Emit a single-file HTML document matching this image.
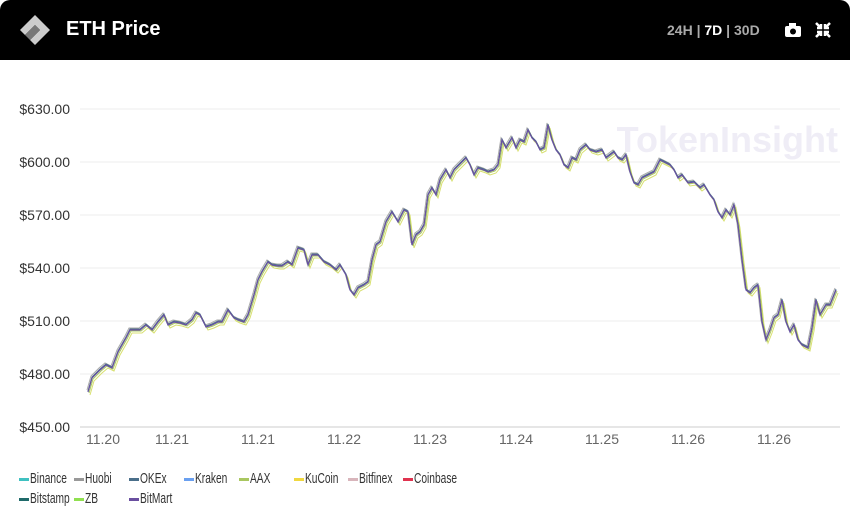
<!DOCTYPE html>
<html><head><meta charset="utf-8"><style>
body{margin:0;width:850px;height:526px;background:#fff;font-family:"Liberation Sans",sans-serif;overflow:hidden;position:relative}
.hdr{position:absolute;left:0;top:0;width:850px;height:60px;background:#000;border-radius:10px 10px 0 0}
.t{position:absolute;left:66px;top:18px;color:#fff;font-weight:bold;font-size:20px}
.r{position:absolute;left:667px;top:22px;color:#aaa;font-size:14px;font-weight:bold}
.r b{color:#fff}
.lg{position:absolute;font-size:15px;color:#333;transform:scaleX(0.68);transform-origin:0 0;white-space:nowrap}
.sw{position:absolute;width:10px;height:3px}
</style></head><body>
<div class="hdr">
<svg style="position:absolute;left:18px;top:13px" width="34" height="34" viewBox="0 0 34 34"><path d="M17 2 L32 17 L17 32 L12 27 L22 17 L17 12 L7 22 L2 17Z" fill="#ccc"/><path d="M17 12 L22 17 L12 27 L7 22Z" fill="#777"/></svg>
<div class="t">ETH Price</div>
<div class="r">24H | <b>7D</b> | 30D</div>
<svg style="position:absolute;left:784px;top:22px" width="18" height="16"><rect x="1" y="4" width="16" height="11" rx="2" fill="#fff"/><rect x="5" y="1" width="7" height="4" fill="#fff"/><circle cx="9" cy="9.5" r="3" fill="#000"/></svg>
<svg style="position:absolute;left:814px;top:21px" width="18" height="18" stroke="#fff" stroke-width="2.5" fill="none"><path d="M2 2L7 7M7 3V7H3M16 2L11 7M11 3V7H15M2 16L7 11M3 11H7V15M16 16L11 11M15 11H11V15"/></svg>
</div>
<svg style="position:absolute;left:0;top:0" width="850" height="526">
<text x="838" y="152" text-anchor="end" font-size="36" font-weight="bold" fill="#efedf6" font-family="Liberation Sans">TokenInsight</text>
<g stroke="#eee" stroke-width="1">
<line x1="80" x2="840" y1="109" y2="109"/><line x1="80" x2="840" y1="162" y2="162"/><line x1="80" x2="840" y1="215" y2="215"/><line x1="80" x2="840" y1="268" y2="268"/><line x1="80" x2="840" y1="321" y2="321"/><line x1="80" x2="840" y1="374" y2="374"/></g>
<line x1="80" x2="840" y1="427" y2="427" stroke="#ccc"/>
<g font-size="14" fill="#333" text-anchor="end"><text x="70" y="114">$630.00</text><text x="70" y="167">$600.00</text><text x="70" y="220">$570.00</text><text x="70" y="273">$540.00</text><text x="70" y="326">$510.00</text><text x="70" y="379">$480.00</text><text x="70" y="432">$450.00</text></g>
<g font-size="14" fill="#666" text-anchor="middle"><text x="103" y="444">11.20</text><text x="172" y="444">11.21</text><text x="258" y="444">11.21</text><text x="344" y="444">11.22</text><text x="430" y="444">11.23</text><text x="516" y="444">11.24</text><text x="602" y="444">11.25</text><text x="688" y="444">11.26</text><text x="774" y="444">11.26</text></g>
<defs><path id="p" d="M88,392 92,378 100,370 106,365 112,368 118,352 122,345 126,338 130,330 140,330 146,325 152,330 158,322 164,315 168,325 174,322 180,323 186,325 192,320 196,313 200,315 206,327 212,325 218,322 222,322 228,310 234,318 238,320 244,322 248,315 254,295 258,280 262,272 268,262 272,265 278,266 282,266 288,262 292,265 298,248 304,250 308,265 312,255 318,255 324,262 330,265 336,270 340,265 346,275 350,290 354,295 358,288 364,285 368,282 372,260 376,245 380,242 386,222 392,212 398,222 404,210 408,212 412,245 416,235 420,232 424,225 428,195 432,188 436,195 440,180 446,170 450,178 454,170 458,166 462,162 466,158 470,165 474,175 478,168 484,170 488,172 494,170 498,165 502,140 506,148 512,138 516,148 520,140 524,142 528,130 532,138 536,142 540,150 544,148 548,125 552,140 556,150 560,155 564,165 568,168 572,158 576,160 580,150 586,145 590,150 596,152 602,150 606,158 610,155 614,152 618,158 622,160 626,155 630,172 634,183 638,185 642,178 648,175 654,172 660,160 664,162 670,165 674,170 678,178 682,175 688,183 694,182 700,188 704,185 710,195 714,200 718,212 722,218 726,210 730,215 734,205 738,225 742,260 746,290 750,293 754,288 758,285 762,322 766,340 770,330 774,318 778,315 782,300 786,322 790,332 794,325 798,340 802,345 808,348 812,328 816,300 820,315 826,305 830,305 836,290" fill="none"/></defs>
<g stroke-width="1" fill="none">
<use href="#p" stroke="#d8e070" transform="translate(2,3)"/>
<use href="#p" stroke="#a9c760" transform="translate(1,1)"/>
<use href="#p" stroke="#aaa" transform="translate(-1,-2)"/>
<use href="#p" stroke="#3fb8b8"/>
<use href="#p" stroke="#4a6f8a" transform="translate(0,-1)"/>
<use href="#p" stroke="#6a4fa0" stroke-width="1.2"/>
</g>
</svg>
<div class="sw" style="left:19px;top:478px;background:#3fc1c1"></div><div class="lg" style="left:30px;top:470px">Binance</div>
<div class="sw" style="left:74px;top:478px;background:#999"></div><div class="lg" style="left:85px;top:470px">Huobi</div>
<div class="sw" style="left:129px;top:478px;background:#4a6f8a"></div><div class="lg" style="left:140px;top:470px">OKEx</div>
<div class="sw" style="left:184px;top:478px;background:#6aa0f0"></div><div class="lg" style="left:195px;top:470px">Kraken</div>
<div class="sw" style="left:239px;top:478px;background:#a9c760"></div><div class="lg" style="left:250px;top:470px">AAX</div>
<div class="sw" style="left:294px;top:478px;background:#f0d840"></div><div class="lg" style="left:305px;top:470px">KuCoin</div>
<div class="sw" style="left:348px;top:478px;background:#d8b5bb"></div><div class="lg" style="left:359px;top:470px">Bitfinex</div>
<div class="sw" style="left:403px;top:478px;background:#e0334f"></div><div class="lg" style="left:414px;top:470px">Coinbase</div>
<div class="sw" style="left:19px;top:498px;background:#1f6a6a"></div><div class="lg" style="left:30px;top:490px">Bitstamp</div>
<div class="sw" style="left:74px;top:498px;background:#90e050"></div><div class="lg" style="left:85px;top:490px">ZB</div>
<div class="sw" style="left:129px;top:498px;background:#6a4fa0"></div><div class="lg" style="left:140px;top:490px">BitMart</div>
</body></html>
